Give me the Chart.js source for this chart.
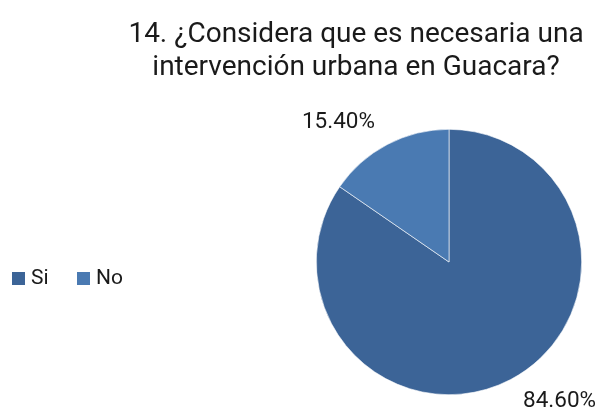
<!DOCTYPE html>
<html>
<head>
<meta charset="utf-8">
<script src="https://cdn.jsdelivr.net/npm/chart.js@4.4.1/dist/chart.umd.min.js"></script>
<style>
  html, body { margin: 0; padding: 0; background: #fff; }
  #wrap { width: 603px; height: 412px; }
</style>
</head>
<body>
<div id="wrap"><canvas id="chart" width="603" height="412"></canvas></div>
<script>
"use strict";

const titleLines = ["14. ¿Considera que es necesaria una", "intervención urbana en Guacara?"];
const categories = ["Si", "No"];
const values = [84.6, 15.4];
const valueLabels = ["84.60%", "15.40%"];
const colors = ["#3c6497", "#4a7ab2"];

const FONT = '"Roboto", sans-serif';
const TEXT_COLOR = "#1a1a1a";

const overlay = {
  id: "overlay",
  afterDraw(chart) {
    const ctx = chart.ctx;
    ctx.save();
    ctx.fillStyle = TEXT_COLOR;
    ctx.textBaseline = "middle";

    // title
    ctx.font = `28px ${FONT}`;
    ctx.textAlign = "center";
    titleLines.forEach((line, i) => ctx.fillText(line, 356, 35 + i * 33));

    // legend
    ctx.font = `21px ${FONT}`;
    ctx.textAlign = "left";
    let x = 12;
    categories.forEach((name, i) => {
      ctx.fillStyle = colors[i];
      ctx.fillRect(x, 272, 13, 13);
      ctx.fillStyle = TEXT_COLOR;
      ctx.fillText(name, x + 19, 279);
      x += 65;
    });

    // data labels, outside the slices
    ctx.font = `22.5px ${FONT}`;
    ctx.textAlign = "center";
    const meta = chart.getDatasetMeta(0);
    meta.data.forEach((arc, i) => {
      const mid = (arc.startAngle + arc.endAngle) / 2 - 0.187;
      const r = arc.outerRadius * 1.34;
      ctx.fillText(valueLabels[i], arc.x + Math.cos(mid) * r, arc.y + Math.sin(mid) * r);
    });
    ctx.restore();
  },
};

new Chart(document.getElementById("chart"), {
  type: "pie",
  data: {
    labels: categories,
    datasets: [{
      data: values,
      backgroundColor: colors,
      borderColor: "#ffffff",
      borderWidth: 0.6,
    }],
  },
  options: {
    responsive: false,
    animation: false,
    layout: { padding: { left: 316, right: 21, top: 129, bottom: 17 } },
    plugins: {
      legend: { display: false },
      title: { display: false },
      tooltip: { enabled: false },
    },
  },
  plugins: [overlay],
});
</script>
</body>
</html>
